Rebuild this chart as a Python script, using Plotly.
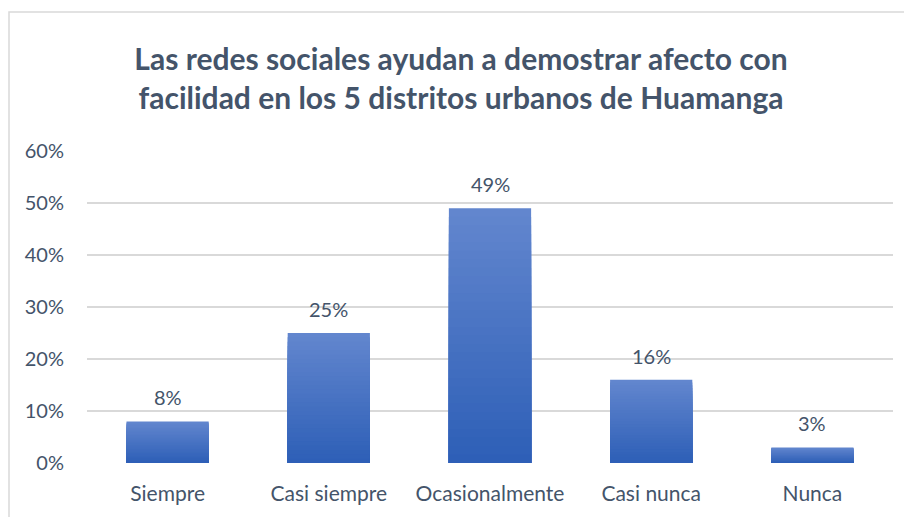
import plotly.graph_objects as go

categories = ["Siempre", "Casi siempre", "Ocasionalmente", "Casi nunca", "Nunca"]
values = [0.08, 0.25, 0.49, 0.16, 0.03]
labels = ["8%", "25%", "49%", "16%", "3%"]
tick_vals = [0, 0.1, 0.2, 0.3, 0.4, 0.5, 0.6]
tick_text = ["0%", "10%", "20%", "30%", "40%", "50%", "60%"]

title_text = ("<b>Las redes sociales ayudan a demostrar afecto con<br>"
              "facilidad en los 5 distritos urbanos de Huamanga</b>")

top_rgb = (98, 134, 206)
bot_rgb = (44, 94, 182)
N = 30
W, H = 912, 517
OFF = 8  # page body offset
L, T = 87 - OFF, 151 - OFF
R = W - (893 - OFF)
B = H - (463 - OFF)
TEXT = "#44546A"

fig = go.Figure()
for k in range(N, 0, -1):
    f = k / N
    c = tuple(round(bot_rgb[i] + (top_rgb[i] - bot_rgb[i]) * f) for i in range(3))
    fig.add_trace(go.Bar(
        x=categories,
        y=[v * f for v in values],
        marker=dict(color="rgb(%d,%d,%d)" % c, line=dict(width=0)),
        hoverinfo="skip" if k != N else None,
        showlegend=False,
    ))

annotations = [
    dict(x=cat, y=v, text=lab, showarrow=False, xref="x", yref="y",
         yanchor="bottom", yshift=10,
         font=dict(family="Lato", size=20, color=TEXT))
    for cat, v, lab in zip(categories, values, labels)
]

pw = W - L - R
ph = H - T - B
fig.update_layout(
    width=W, height=H,
    barmode="overlay",
    bargap=0.49,
    margin=dict(l=L, r=R, t=T, b=B),
    paper_bgcolor="white",
    plot_bgcolor="white",
    font=dict(family="Lato", color=TEXT, size=20),
    title=dict(
        text=title_text,
        x=(461 - OFF) / W, xanchor="center",
        y=1 - (70 - OFF) / H, yanchor="middle",
        yref="container", xref="container",
        font=dict(family="Lato", size=30, color=TEXT),
    ),
    xaxis=dict(
        showgrid=False, showline=False, ticks="",
        ticklabelstandoff=16,
        tickfont=dict(size=21, color=TEXT),
    ),
    yaxis=dict(
        range=[0, 0.6],
        tickvals=tick_vals, ticktext=tick_text,
        showgrid=True, gridcolor="#D9D9D9", gridwidth=1.5,
        zeroline=False, showline=False, ticks="",
        ticklabelstandoff=22,
        tickfont=dict(size=20, color=TEXT),
    ),
    annotations=annotations,
    shapes=[dict(
        type="rect", xref="paper", yref="paper",
        x0=(1 - L) / pw, x1=(W + 20 - L) / pw,
        y0=(H - B - (H + 20)) / ph, y1=(H - B - (12 - OFF)) / ph,
        line=dict(color="#D9D9D9", width=1.5),
        fillcolor="rgba(0,0,0,0)", layer="below",
    )],
)

fig.write_html("out.html")
